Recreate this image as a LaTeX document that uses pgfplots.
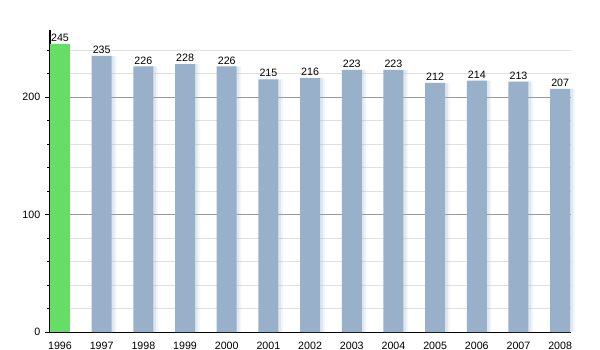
\documentclass[border=0pt]{standalone}
\usepackage{pgfplots}
\pgfplotsset{compat=1.18}
\usepackage{fontspec}
\setmainfont{Liberation Sans}
\definecolor{barblue}{HTML}{98B0CA}
\definecolor{bargreen}{HTML}{66DD66}
\pgfplotstableread{
x y
1 235
2 226
3 228
4 226
5 215
6 216
7 223
8 223
9 212
10 214
11 213
12 207
}\bluedata
\begin{document}
\begin{tikzpicture}
\useasboundingbox (-37.5pt,-13.5pt) rectangle (412.5pt,249pt);
\begin{axis}[
  scale only axis, width=390.75pt, height=226.5pt,
  xmin=-0.24, xmax=12.26, ymin=0, ymax=257,
  axis x line*=bottom, axis y line*=left,
  axis line style={black, line width=0.75pt},
  xtick={0,...,12},
  xticklabels={1996,1997,1998,1999,2000,2001,2002,2003,2004,2005,2006,2007,2008},
  major x tick style={draw=none},
  ytick={0,100,200}, minor ytick={20,40,60,80,120,140,160,180,220,240},
  ymajorgrids, yminorgrids,
  major grid style={color=black!40, line width=0.6pt},
  minor grid style={color=black!12, line width=0.6pt},
  tick align=outside, major tick length=3.75pt, minor tick length=2.25pt,
  tick style={black, line width=0.6pt},
  every tick label/.append style={font=\fontsize{8}{9}\selectfont, black},
  /pgf/number format/assume math mode=true,
  ybar, bar width=15pt,
  clip=false,
]
\addplot[draw=none, fill=barblue, opacity=0.12, bar width=15pt, bar shift=3.5pt] table {\bluedata};
\addplot[draw=none, fill=barblue, opacity=0.2, bar width=15pt, bar shift=2pt] table {\bluedata};
\addplot[draw=none, fill=bargreen, bar shift=0pt, nodes near coords,
  nodes near coords style={font=\fontsize{8}{9}\selectfont, black, inner sep=1.5pt}] coordinates {(0,245)};
\addplot[draw=none, fill=barblue, bar shift=0pt, nodes near coords,
  nodes near coords style={font=\fontsize{8}{9}\selectfont, black, inner sep=1.5pt}] table {\bluedata};
\end{axis}
\end{tikzpicture}
\end{document}
